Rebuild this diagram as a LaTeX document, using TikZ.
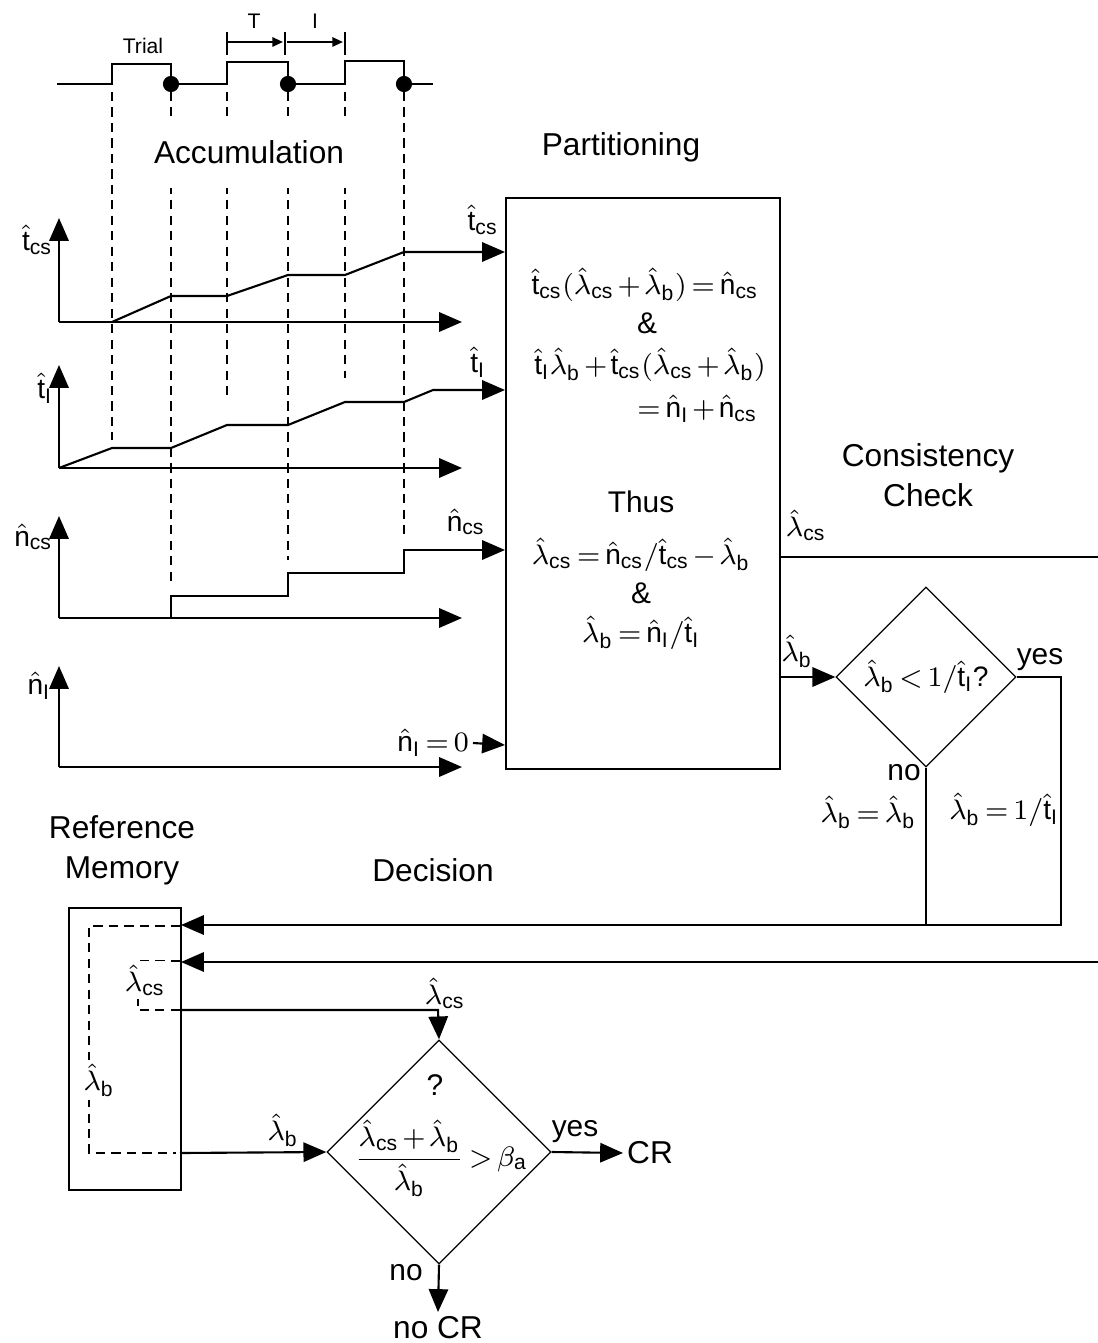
\documentclass[tikz,border=0pt]{standalone}
\usepackage{amsmath}
\usepackage{fontspec}
\setmainfont{Liberation Sans}
\usepackage{tikz}
\usetikzlibrary{arrows.meta,shapes.geometric}

\newcommand{\tcs}{\hat{\mathrm{t}}_{\mathrm{cs}}}
\newcommand{\tI}{\hat{\mathrm{t}}_{\mathrm{I}}}
\newcommand{\ncs}{\hat{\mathrm{n}}_{\mathrm{cs}}}
\newcommand{\nI}{\hat{\mathrm{n}}_{\mathrm{I}}}
\newcommand{\lamcs}{\hat{\lambda}_{\mathrm{cs}}}
\newcommand{\lamb}{\hat{\lambda}_{\mathrm{b}}}
\medmuskip=2mu
\thickmuskip=3mu

\tikzset{
  wire/.style={line width=0.6pt},
  flow/.style={line width=0.6pt,-{Triangle[length=6.5pt,width=5.5pt]}},
  tickflow/.style={line width=0.6pt,-{Triangle[length=3pt,width=2.6pt]}},
  guide/.style={line width=0.6pt,dash pattern=on 2.6pt off 1.8pt},
  box/.style={draw,line width=0.6pt,inner sep=0pt,anchor=north west},
  test/.style={draw,diamond,line width=0.35pt,inner sep=0pt,aspect=1},
  dot/.style={circle,fill,inner sep=0pt,minimum size=4.6pt},
  heading/.style={align=center,font=\fontsize{9}{11.4}\selectfont},
  small/.style={font=\fontsize{6}{7}\selectfont,inner sep=0pt},
  sym/.style={font=\fontsize{8}{10}\selectfont},
}

\begin{document}
\begin{tikzpicture}[x=0.01cm,y=-0.01cm,font=\fontsize{8.5}{10}\selectfont,inner sep=1pt]
\useasboundingbox (0,0) rectangle (1098,1343);

\draw[wire] (57,84) -- (112,84) -- (112,64) -- (171,64) -- (171,84) -- (227,84) -- (227,62) -- (288,62) -- (288,84) -- (345,84) -- (345,61) -- (404,61) -- (404,84) -- (433,84);
\node (trial) [small] at (143,46) {Trial};

\draw[wire] (227,32) -- (227,55);
\draw[wire] (285,32) -- (285,55);
\draw[wire] (345,32) -- (345,55);
\coordinate (ta) at (227,42);
\coordinate (tb) at (283,42);
\coordinate (ia) at (287,42);
\coordinate (ib) at (343,42);
\draw[tickflow] (ta) -- (tb);
\draw[tickflow] (ia) -- (ib);
\node (tlab) [small] at (254,21) {T};
\node (ilab) [small] at (315,21) {I};

\draw[guide] (112,92) -- (112,440);
\draw[guide] (171,92) -- (171,582);
\draw[guide] (227,92) -- (227,398);
\draw[guide] (288,92) -- (288,560);
\draw[guide] (345,92) -- (345,378);
\draw[guide] (404,92) -- (404,538);
\node (end1) [dot] at (171,84) {};
\node (end2) [dot] at (288,84) {};
\node (end3) [dot] at (404,84) {};

\node (accu) [heading,fill=white,inner xsep=1pt,inner ysep=7pt] at (249,152) {Accumulation};
\node (parttitle) [heading] at (621,147) {Partitioning};
\node (constitle) [heading] at (928,475) {Consistency\\Check};
\node (memtitle) [heading] at (122,850) {Reference\\Memory};
\node (dectitle) [heading] at (433,870) {Decision};

\node (part) [box,minimum width=2.74cm,minimum height=5.71cm] at (505,197) {};
\coordinate (tcsin) at (505,252);
\coordinate (tIin) at (505,390);
\coordinate (ncsin) at (505,550);
\coordinate (nIin) at (505,745);

\draw[flow] (59,322) -- (59,218);
\draw[flow] (59,322) -- (462,322);
\draw[flow] (112,322) -- (171,296) -- (227,296) -- (288,275) -- (345,275) -- (404,252) -- (tcsin);
\node (tcsaxis) [sym,anchor=east] at (57,240) {$\tcs$};
\node (tcsarrow) [sym] at (483,220) {$\tcs$};

\draw[flow] (59,468) -- (59,365);
\draw[flow] (59,468) -- (462,468);
\draw[flow] (59,468) -- (112,448) -- (171,448) -- (227,425) -- (288,425) -- (345,402) -- (404,402) -- (433,390) -- (tIin);
\node (tIaxis) [sym,anchor=east] at (57,388) {$\tI$};
\node (tIarrow) [sym] at (478,362) {$\tI$};

\draw[flow] (59,618) -- (59,516);
\draw[flow] (59,618) -- (462,618);
\draw[flow] (171,618) -- (171,596) -- (288,596) -- (288,573) -- (404,573) -- (404,550) -- (ncsin);
\node (ncsaxis) [sym,anchor=east] at (57,537) {$\ncs$};
\node (ncsarrow) [sym] at (466,522) {$\ncs$};

\draw[flow] (59,767) -- (59,666);
\draw[flow] (59,767) -- (462,767);
\node (nIaxis) [sym,anchor=east] at (55,686) {$\nI$};
\node (nIzero) [sym,anchor=east] at (473,743) {$\nI = 0$};
\draw[flow] (nIzero.east) -- (nIin);

\node (eq1) [sym,inner sep=0pt] at (645,285) {$\tcs(\lamcs + \lamb) = \ncs$};
\node (and1) [inner sep=0pt] at (647,323) {\&};
\node (eq2) [sym,inner sep=0pt] at (650,365) {$\tI\lamb + \tcs(\lamcs + \lamb)$};
\node (eq3) [sym,inner sep=0pt,anchor=east] at (758,409) {$= \nI + \ncs$};
\node (thus) at (641,502) {Thus};
\node (eq4) [sym,inner sep=0pt] at (641,555) {$\lamcs = \ncs/\tcs - \lamb$};
\node (and2) [inner sep=0pt] at (641,593) {\&};
\node (eq5) [sym,inner sep=0pt] at (641,633) {$\lamb = \nI/\tI$};

\coordinate (lcsout) at (779,557);
\coordinate (lcsedge) at (1098,557);
\draw[wire] (lcsout) -- (lcsedge);
\node (lcsright) [sym] at (806,525) {$\lamcs$};

\node (chk) [test,sym,minimum size=1.8cm] at (926,677) {$\lamb < 1/\tI$?};
\coordinate (lbout) at (779,677);
\draw[flow] (lbout) -- (chk.west);
\node (lbright) [sym] at (797,651) {$\lamb$};
\node (chkyes) at (1040,660) {yes};
\node (chkno) at (904,773) {no};
\node (keepb) [sym,anchor=east] at (920,812) {$\lamb = \lamb$};
\node (setb) [sym] at (1004,810) {$\lamb = 1/\tI$};

\node (mem) [box,minimum width=1.12cm,minimum height=2.82cm] at (68,907) {};
\coordinate (yesturn) at (1061,677);
\coordinate (yesdown) at (1061,925);
\coordinate (nodown) at (926,925);
\coordinate (memin1) at (181,925);
\coordinate (memin2) at (181,962);
\coordinate (lcsback) at (1098,962);
\draw[flow] (chk.east) -- (yesturn) -- (yesdown) -- (memin1);
\draw[wire] (chk.south) -- (nodown);
\draw[flow] (lcsback) -- (memin2);

\draw[guide] (180,926) -- (89,926) -- (89,1153) -- (176,1153);
\draw[guide] (180,961) -- (138,961) -- (138,1010) -- (180,1010);
\node (lcsmemlab) [sym,fill=white] at (145,980) {$\lamcs$};
\node (lbmemlab) [sym,fill=white] at (99,1080) {$\lamb$};

\node (dec) [test,minimum size=2.24cm] at (439,1152) {};
\coordinate (lcsmem) at (180,1010);
\coordinate (lcsturn) at (438,1010);
\coordinate (lbmem) at (180,1153);
\draw[flow] (lcsmem) -- (lcsturn) -- (dec.north);
\draw[flow] (lbmem) -- (dec.west);
\node (lcsdec) [sym] at (445,993) {$\lamcs$};
\node (lbdec) [sym] at (283,1130) {$\lamb$};
\node (decq) at (435,1085) {?};
\node (decrule) [sym] at (441,1158) {$\dfrac{\lamcs + \lamb}{\lamb} > \beta_{\mathrm{a}}$};

\node (cr) [anchor=west,font=\fontsize{9}{11}\selectfont] at (623,1153) {CR};
\node (nocr) [anchor=north,font=\fontsize{9}{11}\selectfont] at (438,1312) {no CR};
\draw[flow] (dec.east) -- (cr.west);
\draw[flow] (dec.south) -- (nocr.north);
\node (decyes) at (575,1132) {yes};
\node (decno) at (406,1273) {no};
\end{tikzpicture}
\end{document}
